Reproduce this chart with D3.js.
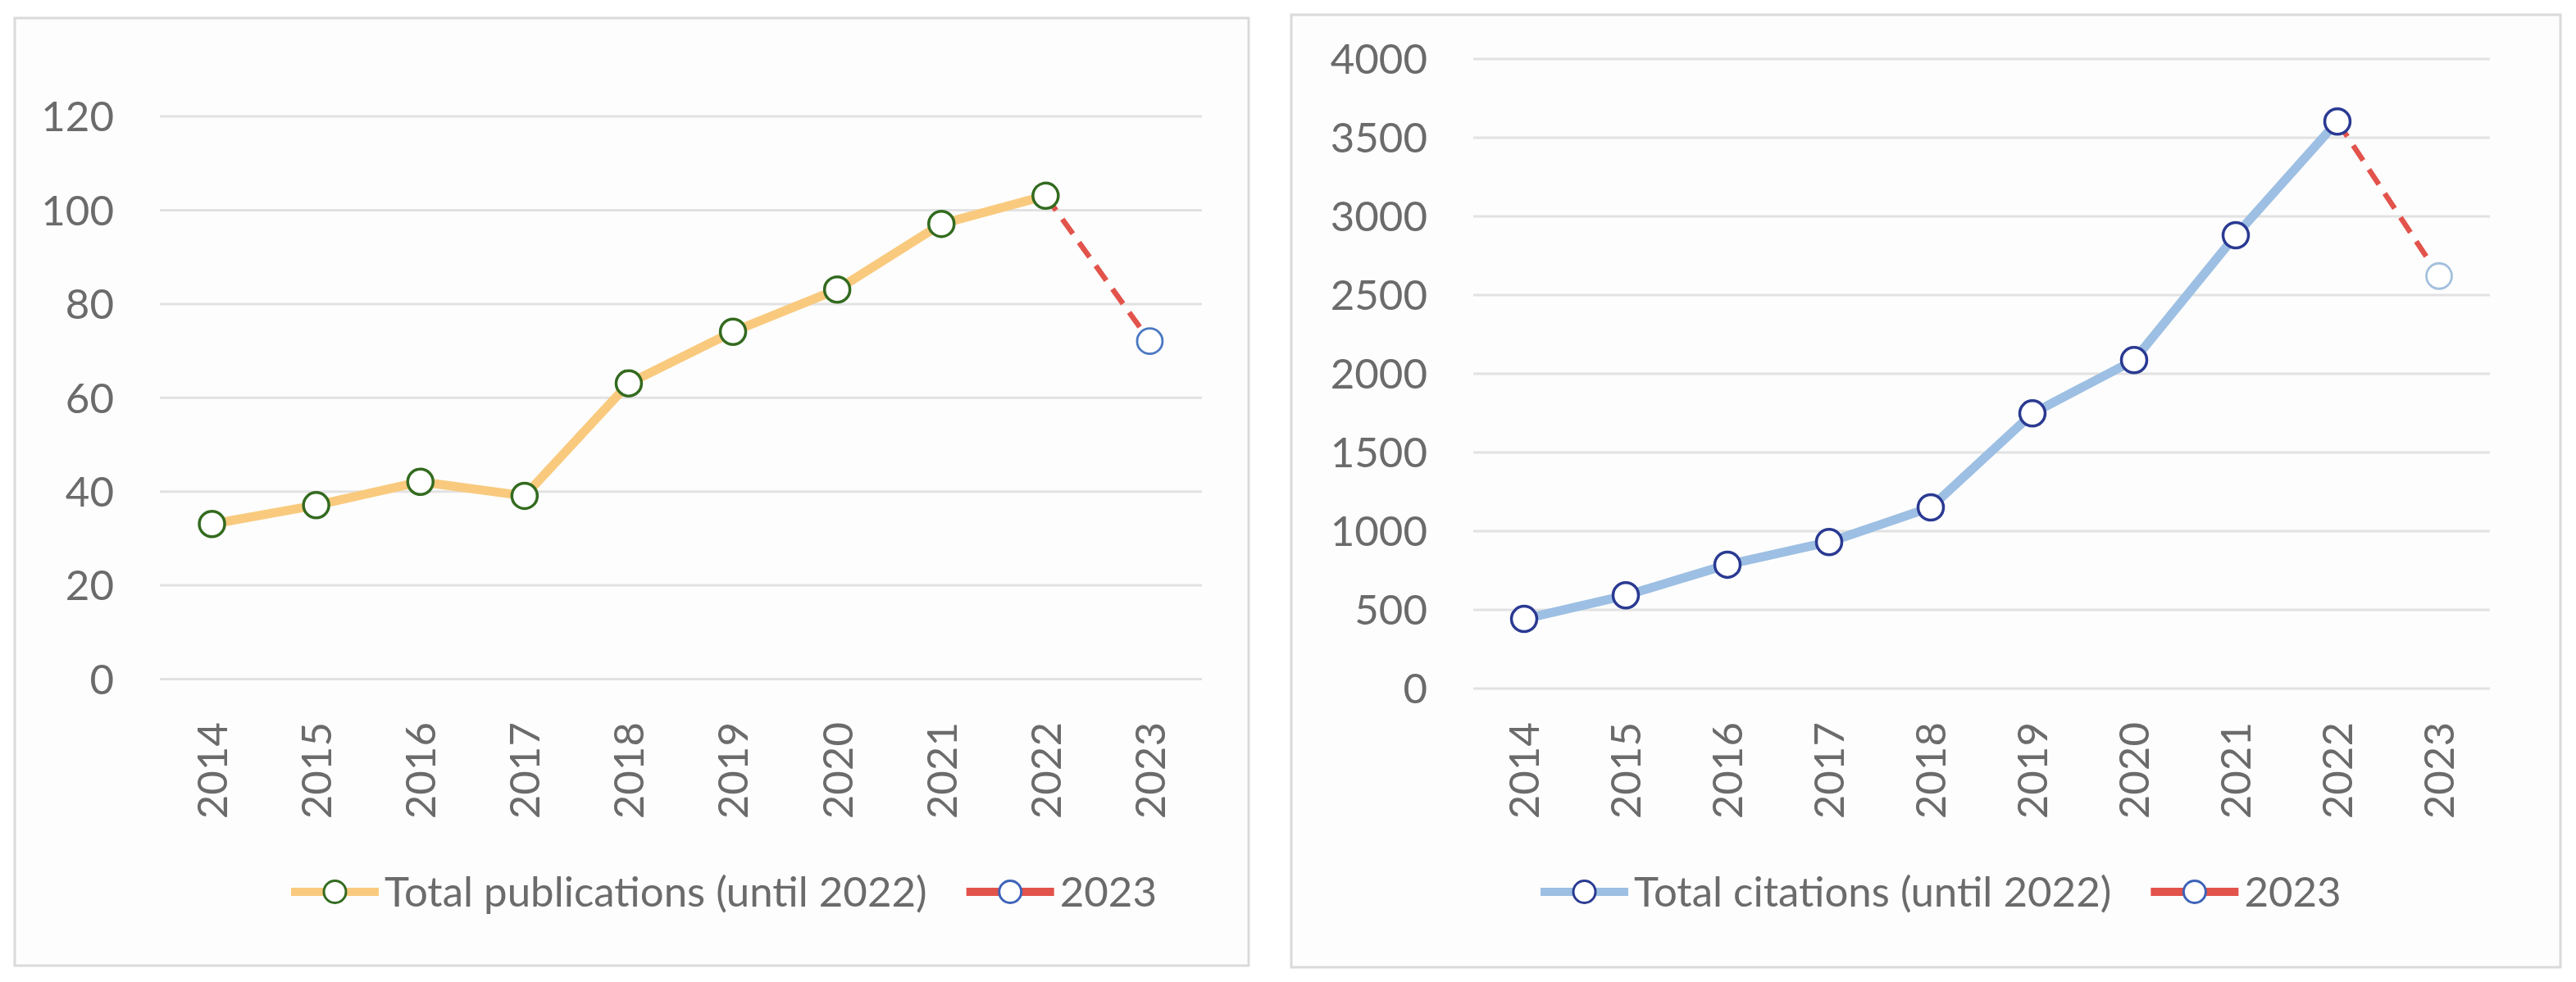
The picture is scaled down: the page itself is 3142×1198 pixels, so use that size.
<!DOCTYPE html>
<html>
<head>
<meta charset="utf-8">
<script src="https://cdn.jsdelivr.net/npm/d3@7"></script>
<style>
  html, body { margin: 0; padding: 0; background: #ffffff; }
  svg { display: block; }
</style>
</head>
<body>
<div id="chart"></div>
<script>
// Data
const years = ['2014', '2015', '2016', '2017', '2018', '2019', '2020', '2021', '2022', '2023'];
const publications = [33, 37, 42, 39, 63, 74, 83, 97, 103];   // 2014..2022
const publications2023 = 72;
const citations = [440, 590, 785, 929, 1149, 1746, 2085, 2878, 3601]; // 2014..2022
const citations2023 = 2619;
const publicationTicks = [0, 20, 40, 60, 80, 100, 120];
const citationTicks = [0, 500, 1000, 1500, 2000, 2500, 3000, 3500, 4000];
const publicationLabels = ['Total publications (until 2022)', '2023'];
const citationLabels = ['Total citations (until 2022)', '2023'];

const WIDTH = 3142;
const HEIGHT = 1198;
const FONT = 'Lato, "Open Sans", sans-serif';
const FONT_SIZE = 51;
const TEXT_COLOR = '#6b6b6b';
const GRID_COLOR = '#e2e2e2';

const svg = d3.select('#chart')
    .append('svg')
    .attr('width', WIDTH)
    .attr('height', HEIGHT)
    .attr('viewBox', `0 0 ${WIDTH} ${HEIGHT}`);

/**
 * Draw one bordered line-chart panel
 */
function drawPanel(opts) {
    const { frame, plot, values, lastValue, ticks, labels, colors } = opts;

    const panel = svg.append('g');

    // Panel frame
    panel.append('rect')
        .attr('x', frame.x)
        .attr('y', frame.y)
        .attr('width', frame.w)
        .attr('height', frame.h)
        .attr('fill', '#fdfdfd')
        .attr('stroke', '#dadada')
        .attr('stroke-width', 3);

    const x = d3.scaleBand()
        .domain(years)
        .range([plot.left, plot.right])
        .padding(0);
    const cx = d => x(d) + x.bandwidth() / 2;

    const y = d3.scaleLinear()
        .domain([0, ticks[ticks.length - 1]])
        .range([plot.bottom, plot.top]);

    // Y axis with gridlines
    const yAxis = d3.axisLeft(y)
        .tickValues(ticks)
        .tickFormat(d3.format('d'))
        .tickSize(-(plot.right - plot.left))
        .tickPadding(56);

    const yg = panel.append('g')
        .attr('transform', `translate(${plot.left},0)`)
        .call(yAxis);
    yg.select('.domain').remove();
    yg.selectAll('.tick line')
        .attr('stroke', GRID_COLOR)
        .attr('stroke-width', 3);
    yg.selectAll('.tick text')
        .attr('fill', TEXT_COLOR)
        .attr('font-family', FONT)
        .attr('font-size', FONT_SIZE)
        .attr('dy', '0.36em');

    // X axis with rotated year labels
    const xAxis = d3.axisBottom(x).tickSize(0);
    const xg = panel.append('g')
        .attr('transform', `translate(0,${plot.bottom})`)
        .call(xAxis);
    xg.select('.domain').remove();
    xg.selectAll('.tick text')
        .attr('fill', TEXT_COLOR)
        .attr('font-family', FONT)
        .attr('font-size', FONT_SIZE)
        .attr('transform', 'rotate(-90)')
        .attr('x', -(opts.labelTop - plot.bottom))
        .attr('y', 0)
        .attr('dy', '0.36em')
        .style('text-anchor', 'end');

    const mainYears = years.slice(0, values.length);
    const mainData = mainYears.map((yr, i) => ({ year: yr, value: values[i] }));
    const tailData = [
        mainData[mainData.length - 1],
        { year: years[years.length - 1], value: lastValue }
    ];

    const line = d3.line()
        .x(d => cx(d.year))
        .y(d => y(d.value));

    // Dashed 2023 segment
    panel.append('path')
        .datum(tailData)
        .attr('d', line)
        .attr('fill', 'none')
        .attr('stroke', colors.dash)
        .attr('stroke-width', 6.5)
        .attr('stroke-dasharray', '22,13');

    // Main series line
    panel.append('path')
        .datum(mainData)
        .attr('d', line)
        .attr('fill', 'none')
        .attr('stroke', colors.line)
        .attr('stroke-width', 11)
        .attr('stroke-linejoin', 'round');

    // Markers
    panel.selectAll('.marker')
        .data(mainData)
        .enter()
        .append('circle')
        .attr('class', 'marker')
        .attr('cx', d => cx(d.year))
        .attr('cy', d => y(d.value))
        .attr('r', 15.5)
        .attr('fill', '#ffffff')
        .attr('stroke', colors.marker)
        .attr('stroke-width', 3.5);

    panel.append('circle')
        .datum(tailData[1])
        .attr('cx', d => cx(d.year))
        .attr('cy', d => y(d.value))
        .attr('r', 15.5)
        .attr('fill', '#ffffff')
        .attr('stroke', colors.lastMarker)
        .attr('stroke-width', 2.8);

    // Legend
    const legend = panel.append('g')
        .attr('transform', `translate(${opts.legendX},${opts.legendY})`);
    const items = [
        { label: labels[0], line: colors.line, marker: colors.marker },
        { label: labels[1], line: colors.dash, marker: colors.legendLastMarker }
    ];
    let offset = 0;
    items.forEach(item => {
        const g = legend.append('g').attr('transform', `translate(${offset},0)`);
        g.append('line')
            .attr('x1', 0).attr('x2', 107)
            .attr('y1', 0).attr('y2', 0)
            .attr('stroke', item.line)
            .attr('stroke-width', 10);
        g.append('circle')
            .attr('cx', 53.5).attr('cy', 0)
            .attr('r', 13.5)
            .attr('fill', '#ffffff')
            .attr('stroke', item.marker)
            .attr('stroke-width', 3);
        const t = g.append('text')
            .attr('x', 114)
            .attr('y', 0)
            .attr('dy', '0.36em')
            .attr('fill', TEXT_COLOR)
            .attr('font-family', FONT)
            .attr('font-size', FONT_SIZE)
            .text(item.label);
        offset += 114 + t.node().getComputedTextLength() + 48;
    });
}

drawPanel({
    frame: { x: 18, y: 22, w: 1505, h: 1156 },
    plot: { left: 195, right: 1466, top: 141.6, bottom: 828 },
    labelTop: 881,
    values: publications,
    lastValue: publications2023,
    ticks: publicationTicks,
    labels: publicationLabels,
    legendX: 355,
    legendY: 1088,
    colors: {
        line: '#f9ca7e',
        marker: '#336b1f',
        dash: '#e2534b',
        lastMarker: '#4a78c2',
        legendLastMarker: '#3d63b8'
    }
});

drawPanel({
    frame: { x: 1575, y: 18, w: 1548, h: 1162 },
    plot: { left: 1797, right: 3037, top: 71.6, bottom: 839.6 },
    labelTop: 881,
    values: citations,
    lastValue: citations2023,
    ticks: citationTicks,
    labels: citationLabels,
    legendX: 1879,
    legendY: 1088,
    colors: {
        line: '#9dbfe3',
        marker: '#2a3a92',
        dash: '#e2534b',
        lastMarker: '#a3c0dc',
        legendLastMarker: '#3d63b8'
    }
});
</script>
</body>
</html>
